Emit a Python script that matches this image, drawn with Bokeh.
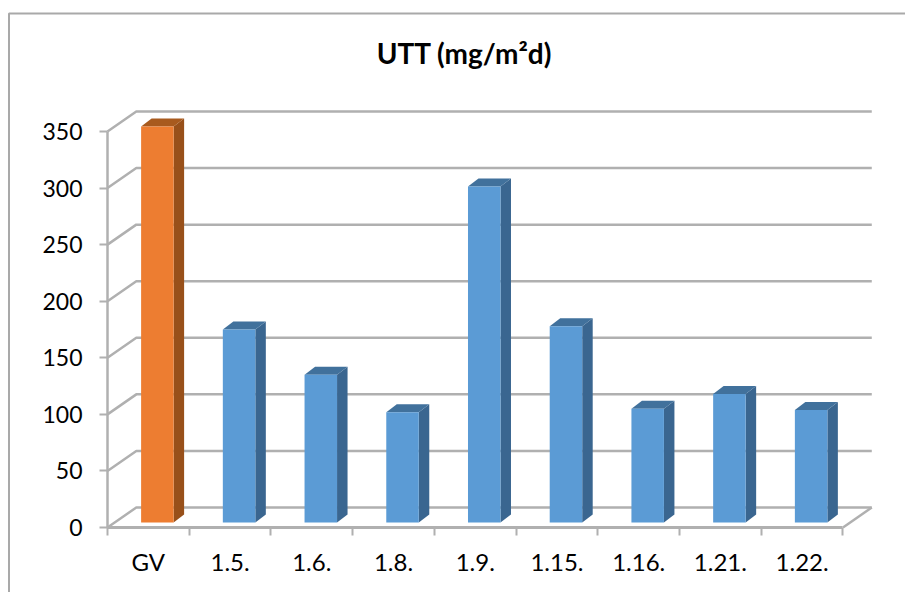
from bokeh.plotting import figure
from bokeh.models import Range1d, FixedTicker
from bokeh.core.properties import value
from bokeh.embed import file_html
from bokeh.resources import INLINE

categories = ["GV", "1.5.", "1.6.", "1.8.", "1.9.", "1.15.", "1.16.", "1.21.", "1.22."]
values = [350, 170.5, 130.5, 97.5, 297, 173.5, 100.5, 113.5, 99.5]
y_ticks = [0, 50, 100, 150, 200, 250, 300, 350]
title_text = "UTT (mg/m²d)"

# chart scale: pixels per unit, used only to express the 3D offsets
W, H = 905, 592
ORIGIN_X, ORIGIN_Y = 107, 527
PX_X = 81.72
PX_Y = 1.1314
WALL_DX = 28.8 / PX_X
WALL_DY = 20.0 / PX_Y
BAR_W = 32.5 / PX_X
BAR_SHIFT_X = 9.0 / PX_X
BAR_BASE = 5.0 / PX_Y
DEPTH_X = 10.5 / PX_X
DEPTH_Y = 8.0 / PX_Y
GRID = "#b0b0b0"
FACE = ["#ED7D31"] + ["#5B9BD5"] * 8
SIDE = ["#98501A"] + ["#3A6690"] * 8
TOP = ["#A85A1E"] + ["#41719C"] * 8
FONT = "Lato"


def X(px):
    return (px - ORIGIN_X) / PX_X


def Y(px):
    return (ORIGIN_Y - px) / PX_Y


p = figure(width=W, height=H, output_backend="svg", toolbar_location=None,
           x_range=Range1d(X(0), X(W)), y_range=Range1d(Y(H), Y(0)),
           min_border=0, outline_line_color=None,
           background_fill_color="white", border_fill_color="white")
p.grid.visible = False

n = len(categories)

# chart-area edge lines
p.multi_line([[X(8.5), X(8.5), X(W)]], [[Y(H), Y(13), Y(13)]], line_color="#a9a9a9", line_width=2)

# title
p.text(x=[X(464)], y=[Y(52)], text=[title_text], text_font=value(FONT), text_font_size="28px",
       text_font_style="bold", text_align="center", text_baseline="middle", text_color="black")

# walls and floor
gx, gy = [], []
for v in y_ticks:
    gx.append([0, WALL_DX, n + WALL_DX])
    gy.append([v, v + WALL_DY, v + WALL_DY])
gx.append([n, n + WALL_DX])
gy.append([0, WALL_DY])
p.multi_line(gx, gy, line_color=GRID, line_width=2.5)

# bars
for i, v in enumerate(values):
    l = i + 0.5 + BAR_SHIFT_X - BAR_W / 2
    r = l + BAR_W
    b = BAR_BASE
    t = v + BAR_BASE
    p.patch([r, r + DEPTH_X, r + DEPTH_X, r], [b, b + DEPTH_Y, t + DEPTH_Y, t], color=SIDE[i], line_width=0)
    p.patch([l, l + DEPTH_X, r + DEPTH_X, r], [t, t + DEPTH_Y, t + DEPTH_Y, t], color=TOP[i], line_width=0)
    p.quad(left=[l], right=[r], bottom=[b], top=[t], color=FACE[i], line_width=0)

# axes
yax = p.yaxis[0]
yax.fixed_location = 0
yax.ticker = FixedTicker(ticks=y_ticks)
yax.bounds = (0, max(y_ticks))
yax.axis_line_color = GRID
yax.axis_line_width = 2.5
yax.major_tick_line_color = GRID
yax.major_tick_line_width = 2
yax.major_tick_out = 8
yax.major_tick_in = 0
yax.minor_tick_line_color = None
yax.major_label_text_font = FONT
yax.major_label_text_font_size = "23px"
yax.major_label_text_color = "black"
yax.major_label_standoff = 17

xax = p.xaxis[0]
xax.fixed_location = 0
centers = [i + 0.5 for i in range(n)]
xax.ticker = FixedTicker(ticks=centers, minor_ticks=list(range(n + 1)))
xax.bounds = (0, n)
xax.major_label_overrides = {c: s for c, s in zip(centers, categories)}
xax.axis_line_color = GRID
xax.axis_line_width = 3
xax.major_tick_line_color = None
xax.major_tick_out = 8
xax.major_tick_in = 0
xax.minor_tick_line_color = GRID
xax.minor_tick_line_width = 2
xax.minor_tick_out = 8
xax.minor_tick_in = 0
xax.major_label_text_font = FONT
xax.major_label_text_font_size = "24px"
xax.major_label_text_color = "black"
xax.major_label_standoff = 11

open("out.html", "w").write(file_html(p, INLINE))
